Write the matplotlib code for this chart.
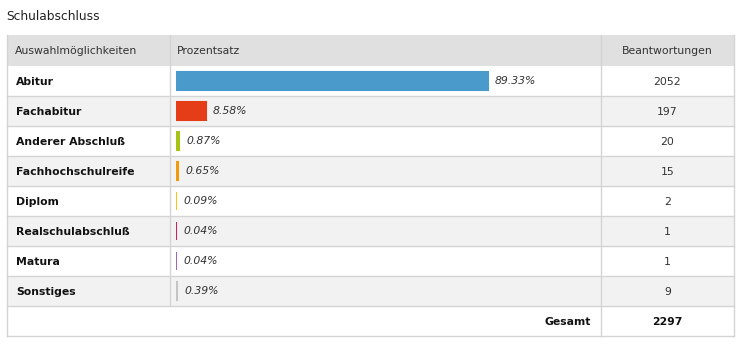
import matplotlib.pyplot as plt
from matplotlib.patches import Rectangle

# data
categories = ["Abitur", "Fachabitur", "Anderer Abschluß", "Fachhochschulreife",
              "Diplom", "Realschulabschluß", "Matura", "Sonstiges"]
percent = [89.33, 8.58, 0.87, 0.65, 0.09, 0.04, 0.04, 0.39]
answers = [2052, 197, 20, 15, 2, 1, 1, 9]
total = 2297
headers = ["Auswahlmöglichkeiten", "Prozentsatz", "Beantwortungen"]
colors = ["#4a9bcb", "#e43d17", "#a6c318", "#f29a0e", "#f1c81c",
          "#c9255a", "#9a6cb8", "#c4c4c4"]

W, H = 739, 359
fig = plt.figure(figsize=(W / 100, H / 100), dpi=100)
plt.rcParams['font.family'] = ['DejaVu Sans']

# background axes in pixel coordinates for the table
bg = fig.add_axes([0, 0, 1, 1])
bg.set_xlim(0, W)
bg.set_ylim(H, 0)
bg.axis('off')

left, c1, c2, right = 7, 170, 601, 734
top, head_h, row_h = 35, 31, 30
line = "#d4d4d4"

bg.text(6, 16, "Schulabschluss", fontsize=8.8, va='center', color='#222')

# header
bg.add_patch(Rectangle((left, top), right - left, head_h, fc="#e0e0e0", ec='none'))
bg.text(left + 8, top + head_h / 2 + 1, headers[0], fontsize=7.8, va='center', color='#333')
bg.text(c1 + 7, top + head_h / 2 + 1, headers[1], fontsize=7.8, va='center', color='#333')
bg.text((c2 + right) / 2, top + head_h / 2 + 1, headers[2], fontsize=7.8,
        va='center', ha='center', color='#333')

y0 = top + head_h
for i, cat in enumerate(categories):
    y = y0 + i * row_h
    fc = 'white' if i % 2 == 0 else '#f2f2f2'
    bg.add_patch(Rectangle((left, y), right - left, row_h, fc=fc, ec='none'))
    bg.plot([left, right], [y + row_h, y + row_h], color=line, lw=1)
    bg.text(left + 9, y + row_h / 2 + 1, cat, fontsize=7.8, fontweight='bold',
            va='center', color='#111')
    bg.text((c2 + right) / 2, y + row_h / 2 + 1, str(answers[i]), fontsize=7.8,
            va='center', ha='center', color='#333')

# total row
yt = y0 + len(categories) * row_h
bg.add_patch(Rectangle((left, yt), right - left, row_h, fc='white', ec='none'))
bg.text(c2 - 10, yt + row_h / 2 + 1, "Gesamt", fontsize=7.8, fontweight='bold',
        va='center', ha='right', color='#111')
bg.text((c2 + right) / 2, yt + row_h / 2 + 1, str(total), fontsize=7.8,
        fontweight='bold', va='center', ha='center', color='#111')

# borders
bottom = yt + row_h
bg.plot([left, left], [top, bottom], color=line, lw=1)
bg.plot([right, right], [top, bottom], color=line, lw=1)
bg.plot([left, right], [bottom, bottom], color=line, lw=1)
bg.plot([c1, c1], [top, yt], color=line, lw=1)
bg.plot([c2, c2], [top, bottom], color=line, lw=1)

# bar axes covering the data rows
bx0, bscale = 176, 349.3
ax = fig.add_axes([bx0 / W, (H - yt) / H, bscale / W, (yt - y0) / H])
ax.set_xlim(0, 100)
ax.set_ylim(len(categories) - 0.5, -0.5)
ax.axis('off')
ax.barh(range(len(categories)), percent, height=0.62, color=colors,
        edgecolor=colors, linewidth=1.5)
for i, p in enumerate(percent):
    ax.annotate(f"{p:.2f}%", (p, i), xytext=(7, 0), textcoords='offset pixels',
                va='center', fontsize=7.8, style='italic', color='#333')

fig.savefig("out.png", dpi=100)
